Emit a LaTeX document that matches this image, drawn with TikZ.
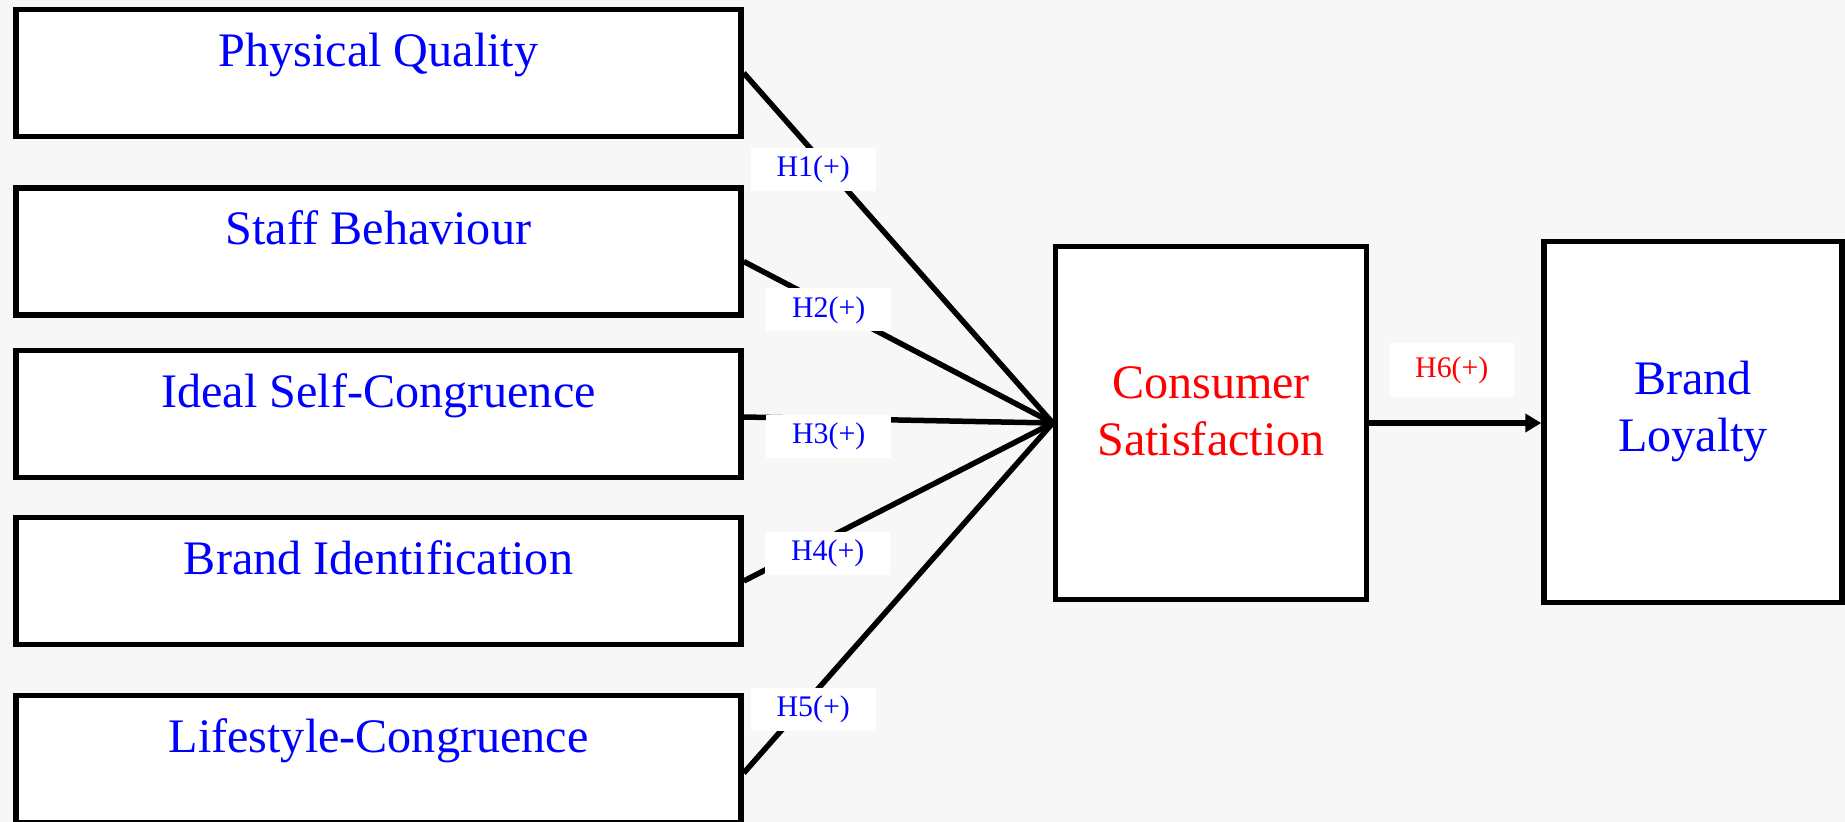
\documentclass[tikz,border=0pt]{standalone}
\usepackage{fontspec}
\setmainfont{Liberation Serif}
\usetikzlibrary{arrows.meta}
\begin{document}
\begin{tikzpicture}[x=0.1mm,y=-0.1mm]

% size of each factor box
\def\bw{72.5mm}
\def\bh{12.7mm}
% node style definition
\tikzstyle{factor} = [
	draw, line width=0.55mm, fill=white, rectangle, text=blue,
	minimum width=\bw, minimum height=\bh, inner sep=0pt,
	font=\fontsize{13.7}{16.2}\selectfont,
	text height=3.3mm, text depth=4.7mm ];
\tikzstyle{outcome} = [
	draw, line width=0.55mm, fill=white, rectangle, align=center,
	inner sep=0pt, font=\fontsize{13.7}{16.2}\selectfont,
	text depth=0mm ];
\tikzstyle{hyp} = [
	fill=white, text=blue, inner sep=0pt, minimum width=12.5mm,
	minimum height=4.3mm, font=\fontsize{8.5}{10}\selectfont ];
\tikzstyle{hypl} = [hyp, yshift=-1.5mm];
\tikzstyle{link} = [line width=0.55mm];

\fill[black!3] (0,0) rectangle (1845,822);
\useasboundingbox (0,0) rectangle (1845,822);

\node[factor] (pq) at (378.5,73) {Physical Quality};
\node[factor] (sb) at (378.5,251.5) {Staff Behaviour};
\node[factor] (isc) at (378.5,414) {Ideal Self-Congruence};
\node[factor] (bi) at (378.5,581) {Brand Identification};
\node[factor] (lc) at (378.5,759) {Lifestyle-Congruence};

\node[outcome, text=red, minimum width=31.1mm, minimum height=35.3mm,
	text height=6.5mm] (cs) at (1211,423) {Consumer\\Satisfaction};
\node[outcome, text=blue, minimum width=29.8mm, minimum height=36.1mm,
	text height=5.8mm] (bl) at (1693,422) {Brand\\Loyalty};

\draw[link] (pq.east) -- node[hypl,pos=.225,yshift=-.25mm] {H1(+)} (cs.west);
\draw[link] ([yshift=-1mm]sb.east) -- node[hyp,pos=.275,yshift=-.4mm] {H2(+)} (cs.west);
\draw[link] ([yshift=-.3mm]isc.east) -- node[hypl,pos=.275,yshift=-.25mm] {H3(+)} (cs.west);
\draw[link] (bi.east) -- node[hypl,pos=.272] {H4(+)} (cs.west);
\draw[link] ([yshift=-1.4mm]lc.east) -- node[hypl,pos=.225] {H5(+)} (cs.west);

\draw[link,-{Triangle[length=1.6mm,width=1.8mm]}] (cs.east) --
	node[hyp,pos=.48,above=2.3mm,text=red,minimum width=12.4mm,
	minimum height=5.4mm] {H6(+)} (cs.east -| bl.west);

\end{tikzpicture}
\end{document}
